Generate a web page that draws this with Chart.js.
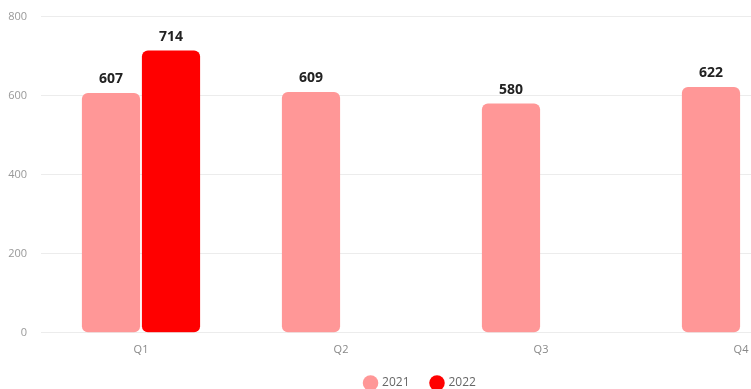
<!DOCTYPE html>
<html>
<head>
<meta charset="utf-8">
<script src="https://cdn.jsdelivr.net/npm/chart.js@4"></script>
<style>
  body { margin: 0; overflow: hidden; background: #fff; }
  #wrap { width: 851px; height: 403px; margin-top: -4px; }
</style>
</head>
<body>
<div id="wrap"><canvas id="myChart"></canvas></div>
<script>
'use strict';
let quarters = ['Q1', 'Q2', 'Q3', 'Q4'];
let sales2021 = [607, 609, 580, 622];
let sales2022 = [714, null, null, null];
let yTicks = [0, 200, 400, 600, 800];

// draws the numbers over the bars
let barLabels = {
    id: 'barLabels',
    afterDatasetsDraw(chart) {
        let ctx = chart.ctx;
        ctx.save();
        ctx.font = 'bold 14px "Open Sans", sans-serif';
        ctx.fillStyle = '#222';
        ctx.textAlign = 'center';
        ctx.textBaseline = 'bottom';
        chart.data.datasets.forEach(function (ds, i) {
            let meta = chart.getDatasetMeta(i);
            meta.data.forEach(function (bar, j) {
                if (ds.data[j] == null) return;
                ctx.fillText(ds.data[j], bar.x, bar.y - 7);
            });
        });
        ctx.restore();
    }
};

let ctx = document.getElementById('myChart').getContext('2d');
let myChart = new Chart(ctx, {
    type: 'bar',
    data: {
        labels: quarters,
        datasets: [{
            label: '2021',
            data: sales2021,
            backgroundColor: '#ff9797',
            borderRadius: 6,
            borderSkipped: false
        }, {
            label: '2022',
            data: sales2022,
            backgroundColor: '#ff0000',
            borderRadius: 6,
            borderSkipped: false
        }]
    },
    options: {
        responsive: true,
        maintainAspectRatio: false,
        animation: false,
        layout: { padding: { top: 2, right: 10, left: 0, bottom: 0 } },
        datasets: {
            bar: { categoryPercentage: 0.6, barPercentage: 0.97 }
        },
        plugins: {
            legend: {
                position: 'bottom',
                labels: {
                    usePointStyle: true,
                    pointStyle: 'circle',
                    boxWidth: 11,
                    boxHeight: 11,
                    padding: 22,
                    color: '#666',
                    font: { family: '"Open Sans", sans-serif', size: 12 }
                }
            },
            tooltip: { enabled: false }
        },
        scales: {
            x: {
                grid: { display: false },
                border: { display: false },
                afterFit: function (axis) { axis.height -= 3; },
                ticks: {
                    padding: 2,
                    color: '#888',
                    font: { family: '"Open Sans", sans-serif', size: 11 }
                }
            },
            y: {
                min: 0,
                max: 800,
                afterBuildTicks: function (axis) {
                    axis.ticks = yTicks.map(function (v) { return { value: v }; });
                },
                afterFit: function (axis) { axis.width = 41; },
                grid: { color: '#ececec', drawTicks: false },
                border: { display: false },
                ticks: {
                    padding: 14,
                    color: '#999',
                    font: { family: '"Open Sans", sans-serif', size: 11 }
                }
            }
        }
    },
    plugins: [barLabels]
});
</script>
</body>
</html>
